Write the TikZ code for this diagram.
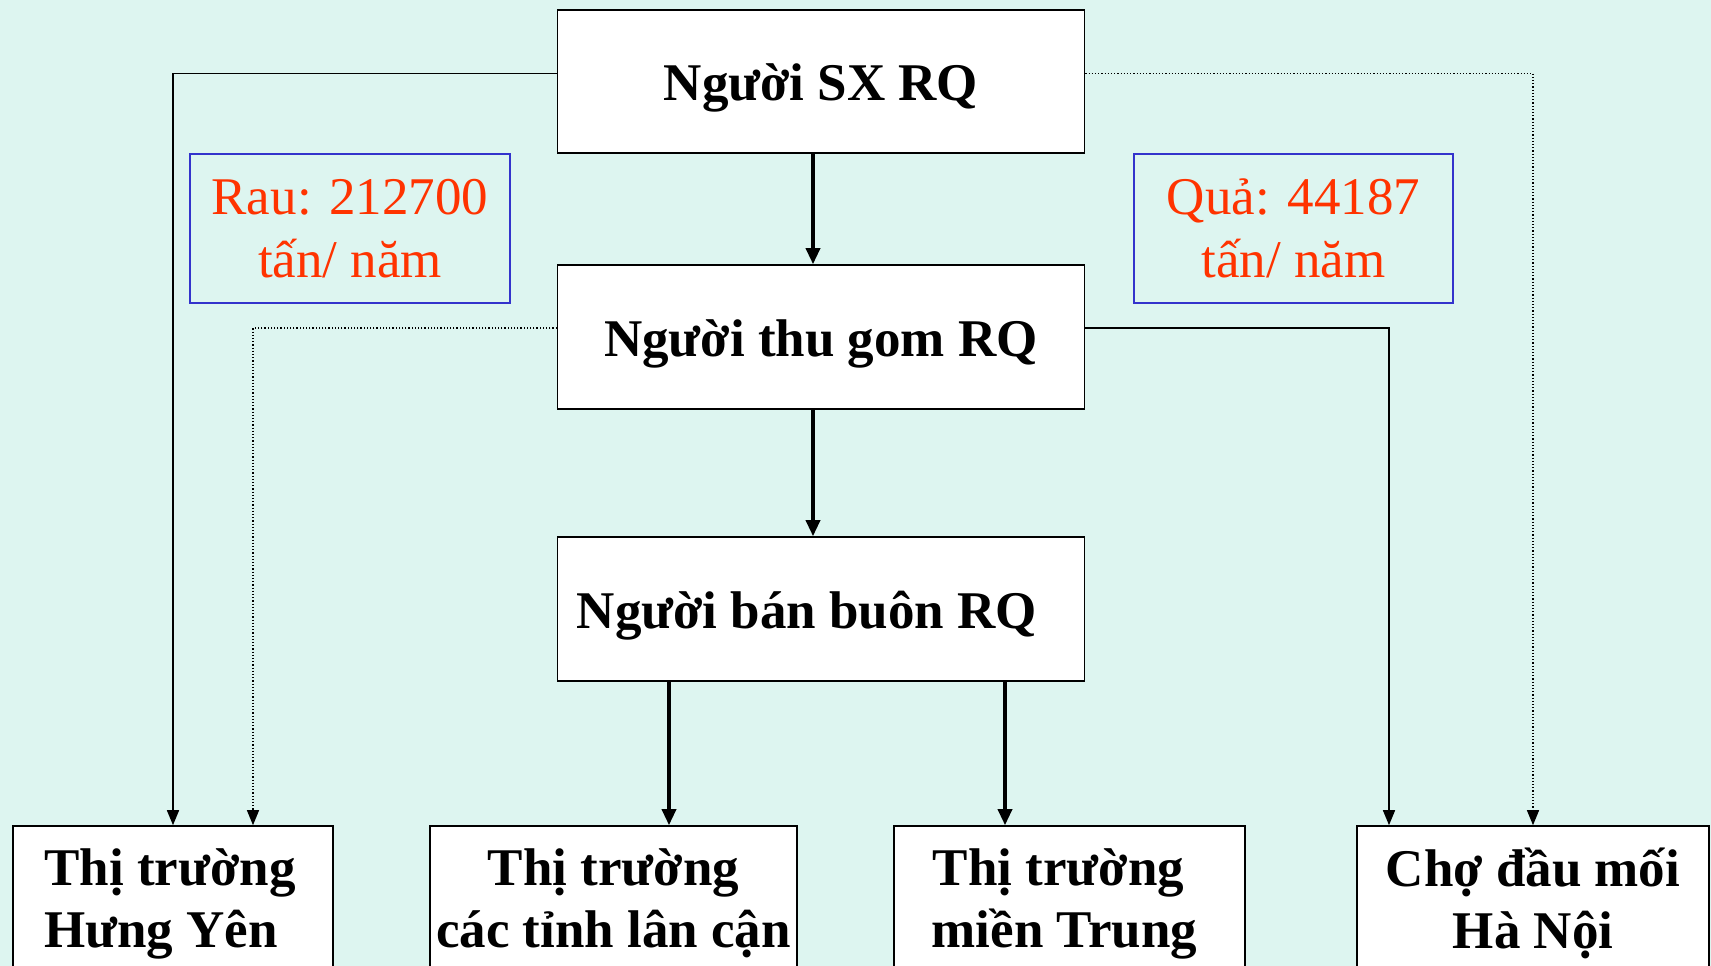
\documentclass[tikz,border=0pt]{standalone}
\usepackage{fontspec}
\setmainfont{Liberation Serif}
\usetikzlibrary{arrows.meta}
\definecolor{bgc}{RGB}{221,245,240}
\definecolor{redtxt}{RGB}{255,51,0}
\definecolor{bluebox}{RGB}{51,51,204}
\tikzset{
 box/.style={draw=black, line width=1.6pt, fill=white, inner sep=0pt, font=\fontsize{53}{62}\selectfont\bfseries, align=center},
 topbox/.style={box, minimum width=527pt, minimum height=144pt, text height=51pt, text depth=12pt},
 mbox/.style={box, minimum height=155pt},
 note/.style={draw=bluebox, line width=1.5pt, inner sep=0pt, text=redtxt, font=\fontsize{53}{63}\selectfont, align=center},
 flowthin/.style={line width=1.5pt, -{Triangle[length=15pt,width=12pt]}},
 flowthick/.style={line width=3.4pt, -{Triangle[length=16pt,width=14pt]}},
 flowdot/.style={line width=1.2pt, dotted, -{Triangle[length=15pt,width=12pt]}},
}
\begin{document}
\begin{tikzpicture}[x=1pt,y=-1pt]
\fill[bgc] (0,0) rectangle (1711,966);
\useasboundingbox (0,0) rectangle (1711,966);
\clip (0,0) rectangle (1711,966);
% main chain
\node[topbox, minimum height=143pt] (sx) at (821,81.3) {Người SX RQ};
\node[topbox] (tg) at (821,337) {Người thu gom RQ};
\node[topbox] (bb) at (821,609) {Người bán buôn RQ\hspace{28pt}};
% notes
\node[note, minimum width=320pt, minimum height=149pt] (rau) at (350,228.5) {Rau: 212700\\tấn/ năm};
\node[note, minimum width=319pt, minimum height=149pt] (qua) at (1293.5,228.5) {Quả: 44187\\tấn/ năm};
% markets (boxes run past the lower edge)
\node[mbox, minimum width=320pt, align=left] (hy) at (173,903.5) {Thị trường\rule{6pt}{0pt}\\Hưng Yên};
\node[mbox, minimum width=367pt] (tinh) at (613.5,903.5) {Thị trường\\các tỉnh lân cận};
\node[mbox, minimum width=351pt] (mt) at (1069.5,903.5) {Thị trường\rule{22pt}{0pt}\\miền Trung\rule{10pt}{0pt}};
\node[mbox, minimum width=352pt] (cho) at (1533,903.5) {Chợ đầu mối\\Hà Nội};
% connectors
\draw[flowthin] ([yshift=8pt]sx.west) -| (hy.north);
\draw[flowdot] ([yshift=8pt]sx.east) -| (cho.north);
\draw[flowdot] ([yshift=9pt]tg.west) -| ([xshift=80pt]hy.north);
\draw[flowthin] ([yshift=9pt]tg.east) -| ([xshift=-144pt]cho.north);
\draw[flowthick] ([xshift=-8pt]sx.south) -- ([xshift=-8pt]tg.north);
\draw[flowthick] ([xshift=-8pt]tg.south) -- ([xshift=-8pt]bb.north);
\draw[flowthick] ([xshift=-152pt]bb.south) -- ([xshift=-152pt]bb.south |- tinh.north);
\draw[flowthick] ([xshift=184pt]bb.south) -- ([xshift=184pt]bb.south |- mt.north);
\end{tikzpicture}
\end{document}
